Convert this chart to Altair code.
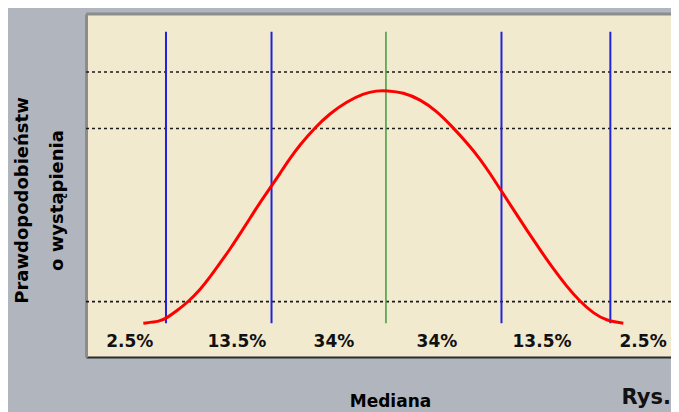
import altair as alt
import pandas as pd

# ---- data ----
curve_x = [-2.184, -2.034, -1.973, -1.883, -1.779, -1.674, -1.584, -1.494, -1.404, -1.314,
           -1.224, -1.134, -1.028, -0.953, -0.879, -0.774, -0.638, -0.503, -0.353, -0.203,
           -0.083, 0.007, 0.157, 0.307, 0.457, 0.592, 0.727, 0.847, 0.937, 1.042,
           1.147, 1.267, 1.387, 1.507, 1.628, 1.747, 1.867, 1.988, 2.137]
curve_y = [0.000, 0.003, 0.009, 0.021, 0.037, 0.057, 0.079, 0.103, 0.127, 0.153,
           0.180, 0.207, 0.236, 0.257, 0.279, 0.306, 0.336, 0.360, 0.380, 0.394,
           0.399, 0.399, 0.396, 0.384, 0.364, 0.338, 0.310, 0.282, 0.257, 0.226,
           0.195, 0.160, 0.126, 0.093, 0.063, 0.037, 0.017, 0.004, 0.000]

sigma_lines = [-1.98, -1.03, 0.0, 1.04, 2.02]
sigma_kind = ["sd", "sd", "median", "sd", "sd"]
line_top = 0.5

dotted_levels = [0.431, 0.334, 0.037]

pct_labels = ["2.5%", "13.5%", "34%", "34%", "13.5%", "2.5%"]
pct_x = [-2.306, -1.342, -0.468, 0.459, 1.405, 2.315]
pct_y = -0.041

x_domain = [-2.70, 2.566]
y_domain = [-0.058, 0.5305]

FONT = "DejaVu Sans"

curve_df = pd.DataFrame({"x": curve_x, "y": curve_y})
lines_df = pd.DataFrame({"x": sigma_lines, "kind": sigma_kind, "top": line_top, "bottom": 0.0})
dots_df = pd.DataFrame({"y": dotted_levels, "x0": x_domain[0], "x1": x_domain[1]})
pct_df = pd.DataFrame({"x": pct_x, "y": pct_y, "t": pct_labels})
top_df = pd.DataFrame({"y": [y_domain[1]], "x0": [x_domain[0]], "x1": [x_domain[1]]})
rys_df = pd.DataFrame({"x": [x_domain[1]], "y": [-0.1390], "t": ["Rys."]})

xs = alt.Scale(domain=x_domain, nice=False, zero=False)
ys = alt.Scale(domain=y_domain, nice=False, zero=False)

x_axis = alt.Axis(labels=False, ticks=False, grid=False, domainColor="#2b2b2b", domainWidth=2,
                  title="Mediana", titleFont=FONT, titleFontSize=17, titleFontWeight="bold",
                  titleColor="#000000", titleX=304, titleY=49, titleBaseline="alphabetic",
                  titleAlign="center")
y_axis = alt.Axis(labels=False, ticks=False, grid=False, domainColor="#8c8c8c", domainWidth=3,
                  title=["Prawdopodobieństw", "o wystąpienia"], titleFont=FONT, titleFontSize=18,
                  titleFontWeight="bold", titleColor="#000000", titleAngle=270,
                  titleX=-59, titleY=186, titleBaseline="alphabetic", titleAlign="center",
                  titleLineHeight=35)

dots = alt.Chart(dots_df).mark_rule(color="#1a1a1a", strokeWidth=1.6, strokeDash=[3, 3]).encode(
    x=alt.X("x0:Q", scale=xs, axis=x_axis), x2="x1:Q",
    y=alt.Y("y:Q", scale=ys, axis=y_axis))

vlines = alt.Chart(lines_df).mark_rule().encode(
    x=alt.X("x:Q", scale=xs), y=alt.Y("top:Q", scale=ys), y2="bottom:Q",
    color=alt.Color("kind:N", scale=alt.Scale(domain=["sd", "median"], range=["#2222dd", "#3c9c3c"]),
                    legend=None),
    strokeWidth=alt.StrokeWidth("kind:N", scale=alt.Scale(domain=["sd", "median"], range=[2, 1.5]),
                                legend=None))

curve = alt.Chart(curve_df).mark_line(color="#ff0000", strokeWidth=3, interpolate="basis").encode(
    x=alt.X("x:Q", scale=xs), y=alt.Y("y:Q", scale=ys))

top_border = alt.Chart(top_df).mark_rule(color="#8c8c8c", strokeWidth=3, clip=False).encode(
    x=alt.X("x0:Q", scale=xs), x2="x1:Q", y=alt.Y("y:Q", scale=ys))

pct = alt.Chart(pct_df).mark_text(font=FONT, fontSize=17, fontWeight="bold", color="#111111",
                                  baseline="alphabetic", align="center").encode(
    x=alt.X("x:Q", scale=xs), y=alt.Y("y:Q", scale=ys), text="t:N")

rys = alt.Chart(rys_df).mark_text(font=FONT, fontSize=21, fontWeight="bold", color="#111111",
                                  baseline="alphabetic", align="right", clip=False).encode(
    x=alt.X("x:Q", scale=xs), y=alt.Y("y:Q", scale=ys), text="t:N")

chart = alt.layer(dots, vlines, curve, top_border, pct, rys).properties(
    width=585, height=343,
    autosize=alt.AutoSizeParams(type="none"),
    padding={"left": 78, "top": 6, "right": 0, "bottom": 55},
    background="#b1b6be",
).configure_view(fill="#f2eacf", stroke=None)

chart.save("out.html", embed_options={"renderer": "svg", "actions": False})
